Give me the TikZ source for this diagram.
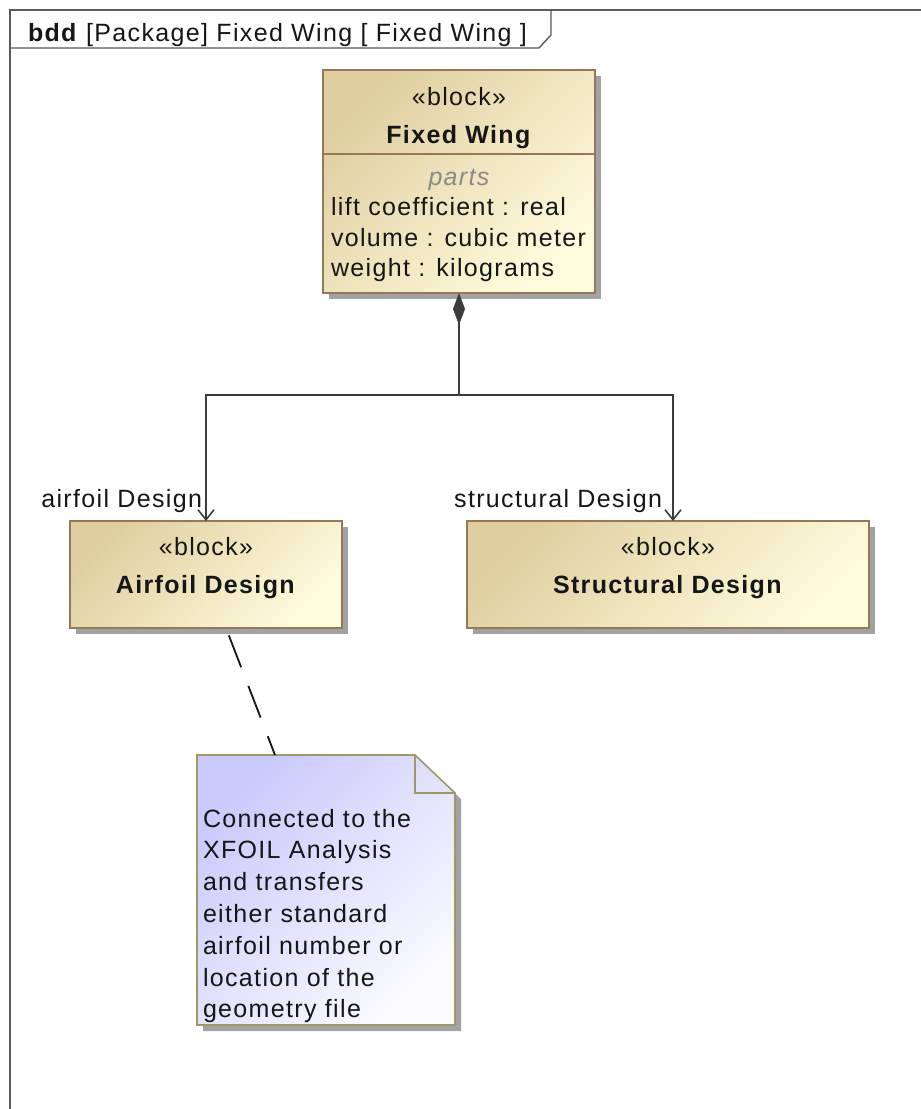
\documentclass[tikz,border=0pt]{standalone}
\usepackage{fontspec}
\setmainfont{Liberation Sans}[LetterSpace=5.4]
\usetikzlibrary{arrows.meta,shadows}

\definecolor{blockdark}{HTML}{DFCFA0}
\definecolor{blocklight}{HTML}{FFFBDD}
\definecolor{blockedge}{HTML}{977659}
\definecolor{notedark}{HTML}{CACAFC}
\definecolor{notelight}{HTML}{FAFAFF}
\definecolor{noteedge}{HTML}{9E9768}
\definecolor{wire}{HTML}{3C3C3C}
\definecolor{ink}{HTML}{161616}
\definecolor{partsgray}{HTML}{8A8A8A}
\definecolor{framegray}{HTML}{5A5A5A}
\definecolor{shadowgray}{HTML}{A2A2A2}

\begin{document}
\fontsize{25}{31}\selectfont
\begin{tikzpicture}[x=1pt,y=-1pt,
  every node/.style={inner sep=0pt, outer sep=0pt, text=ink},
  blockbox/.style={anchor=north west, draw=blockedge, line width=1.3pt,
    top color=blockdark, bottom color=blocklight, shading angle=45,
    drop shadow={shadow xshift=6pt, shadow yshift=-6pt, fill=shadowgray, opacity=1}},
  framepen/.style={draw=framegray, line width=1.4pt},
  wirepen/.style={draw=wire, line width=2pt},
  composite/.style={wirepen, {Diamond[length=32pt,width=12pt,fill=wire]}-},
  partarrow/.style={wirepen, -{Straight Barb[length=10pt,width=16pt,line width=1.6pt]}},
  notelink/.style={draw=ink, line width=1.8pt, dash pattern=on 34pt off 20pt, dash phase=46pt},
]
\useasboundingbox (0,0) rectangle (921,1109);
\fill[white] (0,0) rectangle (921,1109);

% diagram frame with its name tab
\draw[framepen] (10,1109) -- (10,10) -- (921,10);
\draw[framepen] (10,48) -- (539,48) -- (551,35) -- (551,10);
\node[anchor=base west] (frametitle) at (28,41) {\textbf{bdd} [Package] Fixed Wing [ Fixed Wing ]};

% Fixed Wing block
\node[blockbox, minimum width=272pt, minimum height=223pt] (fw) at (323,70) {};
\draw[blockedge, line width=1.3pt] ([yshift=-84pt]fw.north west) -- ([yshift=-84pt]fw.north east);
\node[anchor=base] (fw-stereo) at (459,105) {«block»};
\node[anchor=base] (fw-name) at (459,143) {\textbf{Fixed Wing}};
\node[anchor=base, text=partsgray] (fw-parts) at (459,185) {\itshape parts};
\node[anchor=base west] (fw-p1) at (331,215) {lift coefficient : real};
\node[anchor=base west] (fw-p2) at (331,246) {volume : cubic meter};
\node[anchor=base west] (fw-p3) at (331,276) {weight : kilograms};

% part blocks
\node[blockbox, minimum width=272pt, minimum height=107pt] (ad) at (70,521) {};
\node[anchor=base] (ad-stereo) at (206,555) {«block»};
\node[anchor=base] (ad-name) at (206,593) {\textbf{Airfoil Design}};

\node[blockbox, minimum width=402pt, minimum height=107pt] (sd) at (467,521) {};
\node[anchor=base] (sd-stereo) at (668,555) {«block»};
\node[anchor=base] (sd-name) at (668,593) {\textbf{Structural Design}};

% composition tree
\coordinate (junction) at (459,395);
\draw[composite] (fw.south) -- (junction);
\draw[partarrow] (junction) -| (ad.north);
\draw[partarrow] (junction) -| ([xshift=5pt]sd.north);
\node[anchor=base east] (ad-role) at (202,507) {airfoil Design};
\node[anchor=base east] (sd-role) at (662,507) {structural Design};

% comment note
\node[minimum width=258pt, minimum height=270pt, anchor=north west] (note) at (197,755) {};
\path[draw=noteedge, line width=1.6pt, top color=notedark, bottom color=notelight, shading angle=45,
    drop shadow={shadow xshift=6pt, shadow yshift=-6pt, fill=shadowgray, opacity=1}]
  (note.north west) -- ([xshift=-40pt]note.north east) -- ([yshift=-38pt]note.north east)
  -- (note.south east) -- (note.south west) -- cycle;
\draw[noteedge, line width=1.6pt] ([xshift=-40pt]note.north east) -- ([xshift=-40pt,yshift=-38pt]note.north east)
  -- ([yshift=-38pt]note.north east);
\node[anchor=north west, align=left, font=\fontsize{25}{31.8}\selectfont] (note-text) at (203,809)
  {Connected to the\\XFOIL Analysis\\and transfers\\either standard\\airfoil number or\\location of the\\geometry file};
\draw[notelink] ([xshift=20pt]ad.south) -- ([xshift=-51pt]note.north);
\end{tikzpicture}
\end{document}
